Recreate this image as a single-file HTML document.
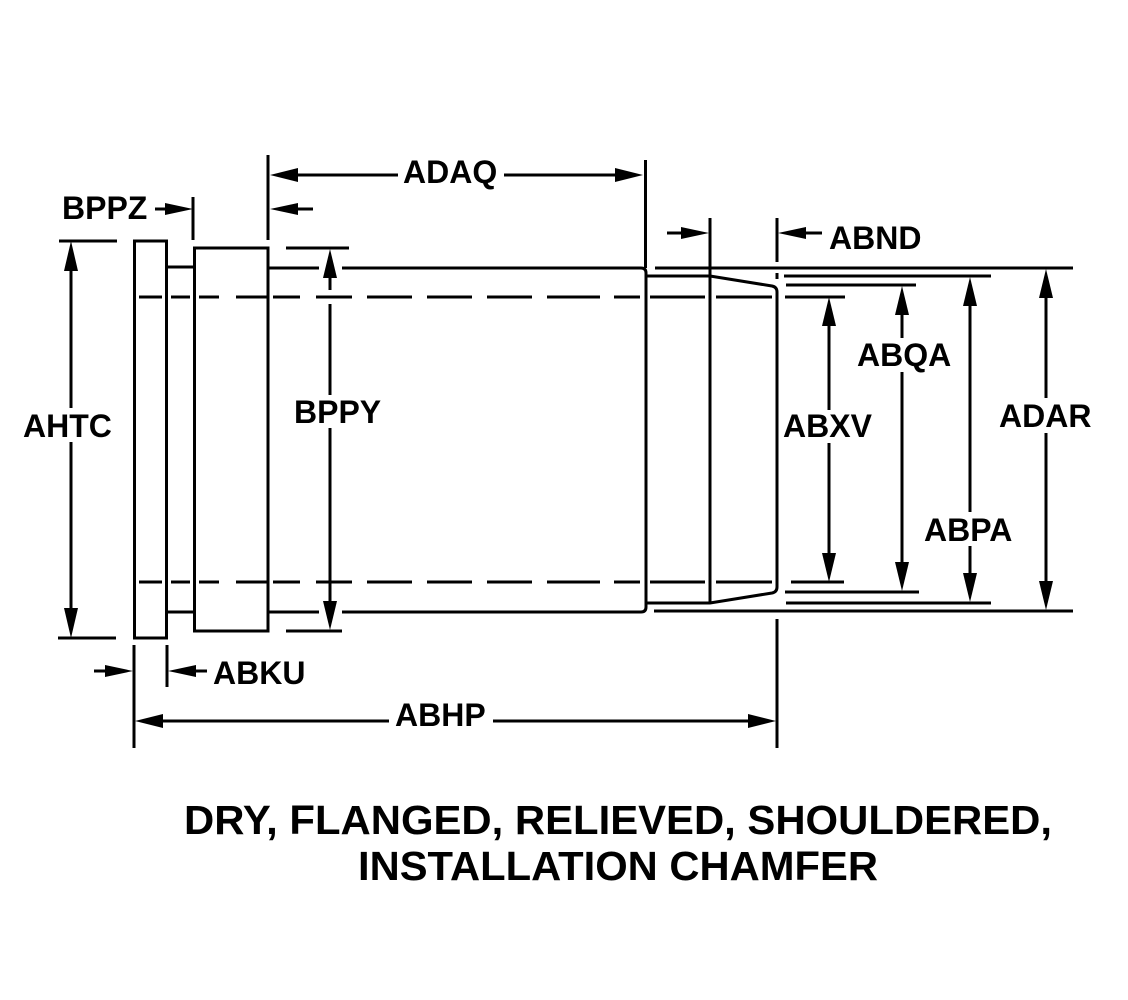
<!DOCTYPE html>
<html>
<head>
<meta charset="utf-8">
<style>
html,body{margin:0;padding:0;background:#fff;}
svg{display:block;}
text{font-family:"Liberation Sans",Arial,sans-serif;font-weight:bold;fill:#000;}
</style>
</head>
<body>
<svg width="1128" height="1000" viewBox="0 0 1128 1000" xmlns="http://www.w3.org/2000/svg">
<rect width="1128" height="1000" fill="#fff"/>
<g stroke="#000" stroke-width="3" fill="none" stroke-linecap="butt">
  <!-- flange -->
  <rect x="134.5" y="241" width="32" height="397"/>
  <!-- neck -->
  <line x1="167" y1="267" x2="194" y2="267"/>
  <line x1="167" y1="612" x2="194" y2="612"/>
  <!-- shoulder -->
  <rect x="194.5" y="248" width="73.5" height="383"/>
  <!-- body top / bottom with gap for BPPY -->
  <line x1="268" y1="268" x2="319" y2="268"/>
  <path d="M342 268 H641 Q646 268 646 273 V607 Q646 612 641 612 H342"/>
  <line x1="268" y1="612" x2="319" y2="612"/>
  <!-- ADAQ right ext -->
  <line x1="645.5" y1="160" x2="645.5" y2="268"/>
  <!-- ADAQ left ext -->
  <line x1="268" y1="155" x2="268" y2="240"/>
  <!-- BPPZ ext -->
  <line x1="193" y1="197" x2="193" y2="240"/>
  <!-- relief and chamfer -->
  <path d="M647 276 H710 L772 286 Q777 287 777 292 V587 Q777 592 772 593 L710 603 H647"/>
  <line x1="710" y1="218" x2="710" y2="603"/>
  <line x1="777" y1="218" x2="777" y2="262"/>
  <line x1="777" y1="273" x2="777" y2="279"/>
  <line x1="777" y1="619" x2="777" y2="748"/>
  <!-- ABHP / ABKU ext -->
  <line x1="134" y1="645" x2="134" y2="748"/>
  <line x1="167" y1="645" x2="167" y2="687"/>
  <!-- AHTC ext lines -->
  <line x1="59" y1="241" x2="117" y2="241"/>
  <line x1="58" y1="638" x2="116" y2="638"/>
  <!-- BPPY ext lines -->
  <line x1="286" y1="248" x2="349" y2="248"/>
  <line x1="286" y1="631" x2="342" y2="631"/>
  <!-- right ext lines -->
  <line x1="655" y1="268" x2="1073" y2="268"/>
  <line x1="654" y1="611" x2="1073" y2="611"/>
  <line x1="784" y1="276" x2="991" y2="276"/>
  <line x1="786" y1="603" x2="991" y2="603"/>
  <line x1="786" y1="285" x2="916" y2="285"/>
  <line x1="785" y1="592" x2="919" y2="592"/>
  <!-- dashed center lines -->
  <path d="M139 297H162 M171 297H190 M199 297H219 M236 297H267 M273 297H300 M316 297H352 M367 297H412 M427 297H472 M487 297H532 M547 297H600 M614 297H640 M650 297H705 M716 297H772 M785 297H845"/>
  <path d="M139 582H162 M171 582H190 M199 582H219 M236 582H267 M273 582H300 M316 582H352 M367 582H412 M427 582H472 M487 582H532 M547 582H600 M614 582H640 M650 582H705 M716 582H772 M791 582H844"/>
  <!-- dimension lines -->
  <!-- AHTC -->
  <line x1="71" y1="260" x2="71" y2="408"/>
  <line x1="71" y1="442" x2="71" y2="620"/>
  <!-- BPPY -->
  <line x1="330" y1="265" x2="330" y2="290"/>
  <line x1="330" y1="304" x2="330" y2="395"/>
  <line x1="330" y1="428" x2="330" y2="612"/>
  <!-- ADAQ -->
  <line x1="285" y1="175" x2="398" y2="175"/>
  <line x1="504" y1="175" x2="628" y2="175"/>
  <!-- small arrows -->
  <line x1="155" y1="209" x2="175" y2="209"/>
  <line x1="290" y1="209" x2="313" y2="209"/>
  <!-- ABND -->
  <line x1="667" y1="233" x2="690" y2="233"/>
  <line x1="795" y1="233" x2="822" y2="233"/>
  <!-- ABKU -->
  <line x1="94" y1="671" x2="115" y2="671"/>
  <line x1="185" y1="671" x2="207" y2="671"/>
  <!-- ABHP -->
  <line x1="150" y1="721" x2="389" y2="721"/>
  <line x1="493" y1="721" x2="760" y2="721"/>
  <!-- ABXV -->
  <line x1="829" y1="315" x2="829" y2="410"/>
  <line x1="829" y1="443" x2="829" y2="565"/>
  <!-- ABQA -->
  <line x1="902" y1="300" x2="902" y2="338"/>
  <line x1="902" y1="372" x2="902" y2="575"/>
  <!-- ABPA -->
  <line x1="970" y1="295" x2="970" y2="512"/>
  <line x1="970" y1="546" x2="970" y2="585"/>
  <!-- ADAR -->
  <line x1="1046" y1="285" x2="1046" y2="398"/>
  <line x1="1046" y1="433" x2="1046" y2="595"/>
</g>
<g fill="#000">
  <!-- AHTC -->
  <polygon points="71,241 64,271 78,271"/>
  <polygon points="71,638 64,608 78,608"/>
  <!-- BPPY -->
  <polygon points="330,249 323,278 337,278"/>
  <polygon points="330,630 323,601 337,601"/>
  <!-- ADAQ -->
  <polygon points="270,175 298,168 298,182"/>
  <polygon points="643,175 615,168 615,182"/>
  <!-- small arrows -->
  <polygon points="193,209 165,203 165,215"/>
  <polygon points="270,209 298,203 298,215"/>
  <!-- ABND -->
  <polygon points="709,233 681,227 681,239"/>
  <polygon points="778,233 806,227 806,239"/>
  <!-- ABKU -->
  <polygon points="133,671 105,665 105,677"/>
  <polygon points="168,671 196,665 196,677"/>
  <!-- ABHP -->
  <polygon points="135,721 163,714 163,728"/>
  <polygon points="776,721 748,714 748,728"/>
  <!-- ABXV -->
  <polygon points="829,297 822,326 836,326"/>
  <polygon points="829,582 822,553 836,553"/>
  <!-- ABQA -->
  <polygon points="902,286 895,315 909,315"/>
  <polygon points="902,591 895,562 909,562"/>
  <!-- ABPA -->
  <polygon points="970,277 963,306 977,306"/>
  <polygon points="970,602 963,573 977,573"/>
  <!-- ADAR -->
  <polygon points="1046,269 1039,298 1053,298"/>
  <polygon points="1046,610 1039,581 1053,581"/>
</g>
<g font-size="32">
  <text x="62" y="219">BPPZ</text>
  <text x="403" y="183">ADAQ</text>
  <text x="829" y="249">ABND</text>
  <text x="23" y="437">AHTC</text>
  <text x="294" y="423">BPPY</text>
  <text x="857" y="366">ABQA</text>
  <text x="783" y="437">ABXV</text>
  <text x="999" y="427">ADAR</text>
  <text x="924" y="541">ABPA</text>
  <text x="213" y="684">ABKU</text>
  <text x="395" y="726">ABHP</text>
</g>
<g font-size="41">
  <text x="618" y="834" text-anchor="middle" textLength="868" lengthAdjust="spacingAndGlyphs">DRY, FLANGED, RELIEVED, SHOULDERED,</text>
  <text x="618" y="880" text-anchor="middle" textLength="520" lengthAdjust="spacingAndGlyphs">INSTALLATION CHAMFER</text>
</g>
</svg>
</body>
</html>
